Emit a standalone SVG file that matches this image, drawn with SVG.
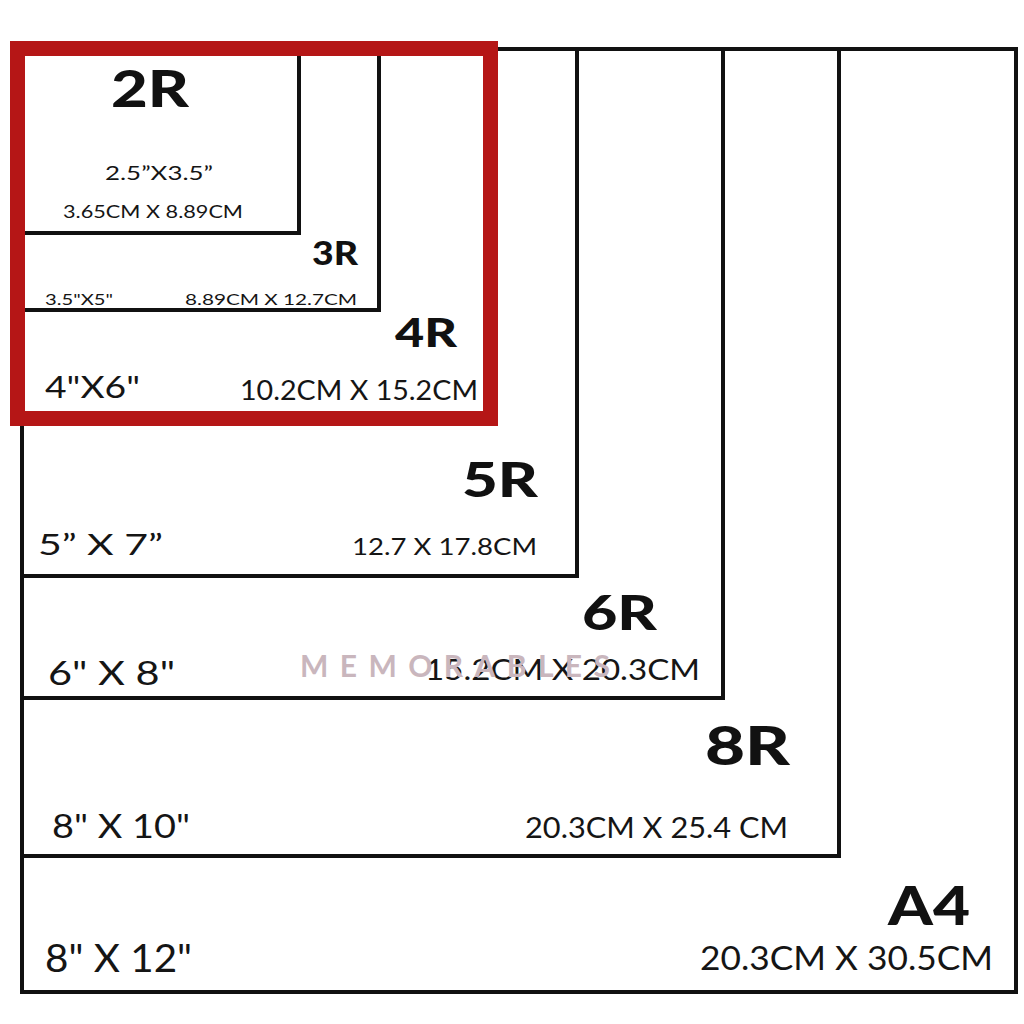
<svg xmlns="http://www.w3.org/2000/svg" width="1024" height="1024" viewBox="0 0 1024 1024">
<style>
.frame{fill:none;stroke:#111;stroke-width:4}
.big{font-family:Lato,"Liberation Sans",sans-serif;font-weight:900;fill:#111}
.t{font-family:Lato,"Open Sans","Liberation Sans",sans-serif;font-weight:400;fill:#151515}
.wm{font-family:Lato,"Liberation Sans",sans-serif;font-weight:700;fill:#c9b6bd}
</style>
<rect width="1024" height="1024" fill="#fff"/>
<g id="A4">
<rect class="frame" x="22" y="49" width="994" height="943"/>
<text class="big" x="970" y="925" font-size="54" text-anchor="end" textLength="82" lengthAdjust="spacingAndGlyphs">A4</text>
<text class="t" x="45" y="972" font-size="38" textLength="147" lengthAdjust="spacingAndGlyphs">8" X 12"</text>
<text class="t" x="993" y="970" font-size="32" text-anchor="end" textLength="293" lengthAdjust="spacingAndGlyphs">20.3CM X 30.5CM</text>
</g>
<g id="R8">
<rect class="frame" x="22" y="49" width="817" height="807"/>
<text class="big" x="790" y="765" font-size="54" text-anchor="end" textLength="85" lengthAdjust="spacingAndGlyphs">8R</text>
<text class="t" x="52" y="838" font-size="32" textLength="138" lengthAdjust="spacingAndGlyphs">8" X 10"</text>
<text class="t" x="788" y="838" font-size="28" text-anchor="end" textLength="263" lengthAdjust="spacingAndGlyphs">20.3CM X 25.4 CM</text>
</g>
<g id="R6">
<rect class="frame" x="22" y="49" width="701" height="649"/>
<text class="big" x="657" y="630" font-size="48" text-anchor="end" textLength="75" lengthAdjust="spacingAndGlyphs">6R</text>
<text class="t" x="48" y="685" font-size="32" textLength="127" lengthAdjust="spacingAndGlyphs">6" X 8"</text>
<text class="t" x="700" y="680" font-size="28" text-anchor="end" textLength="275" lengthAdjust="spacingAndGlyphs">15.2CM X 20.3CM</text>
</g>
<g id="R5">
<rect class="frame" x="22" y="49" width="555" height="527"/>
<text class="big" x="538" y="497" font-size="48" text-anchor="end" textLength="76" lengthAdjust="spacingAndGlyphs">5R</text>
<text class="t" x="38" y="555" font-size="28" textLength="125" lengthAdjust="spacingAndGlyphs">5” X 7”</text>
<text class="t" x="537" y="555" font-size="24" text-anchor="end" textLength="185" lengthAdjust="spacingAndGlyphs">12.7 X 17.8CM</text>
</g>
<g id="R4">
<rect class="frame" x="22" y="49" width="468" height="368"/>
<text class="big" x="457" y="347" font-size="40" text-anchor="end" textLength="62" lengthAdjust="spacingAndGlyphs">4R</text>
<text class="t" x="45" y="398" font-size="30" textLength="95" lengthAdjust="spacingAndGlyphs">4"X6"</text>
<text class="t" x="478" y="400" font-size="26" text-anchor="end" textLength="238" lengthAdjust="spacingAndGlyphs">10.2CM X 15.2CM</text>
</g>
<g id="R3">
<rect class="frame" x="22" y="49" width="357" height="261"/>
<text class="big" x="358" y="265" font-size="32" text-anchor="end" textLength="46" lengthAdjust="spacingAndGlyphs">3R</text>
<text class="t" x="45" y="305" font-size="15" textLength="68" lengthAdjust="spacingAndGlyphs">3.5"X5"</text>
<text class="t" x="357" y="305" font-size="15" text-anchor="end" textLength="172" lengthAdjust="spacingAndGlyphs">8.89CM X 12.7CM</text>
</g>
<g id="R2">
<rect class="frame" x="22" y="49" width="277" height="184"/>
<text class="big" x="150" y="107" font-size="52" text-anchor="middle" textLength="78" lengthAdjust="spacingAndGlyphs">2R</text>
<text class="t" x="159" y="180" font-size="20" text-anchor="middle" textLength="108" lengthAdjust="spacingAndGlyphs">2.5”X3.5”</text>
<text class="t" x="153" y="218" font-size="17" text-anchor="middle" textLength="180" lengthAdjust="spacingAndGlyphs">3.65CM X 8.89CM</text>
</g>
<g id="highlight">
<rect x="17.5" y="48.5" width="473" height="370" fill="none" stroke="#b51616" stroke-width="15"/>
</g>
<g id="watermark">
<text class="wm" x="300" y="677" font-size="30" textLength="310" lengthAdjust="spacing">MEMORABLES</text>
</g>
<g id="connectors"></g>
</svg>
